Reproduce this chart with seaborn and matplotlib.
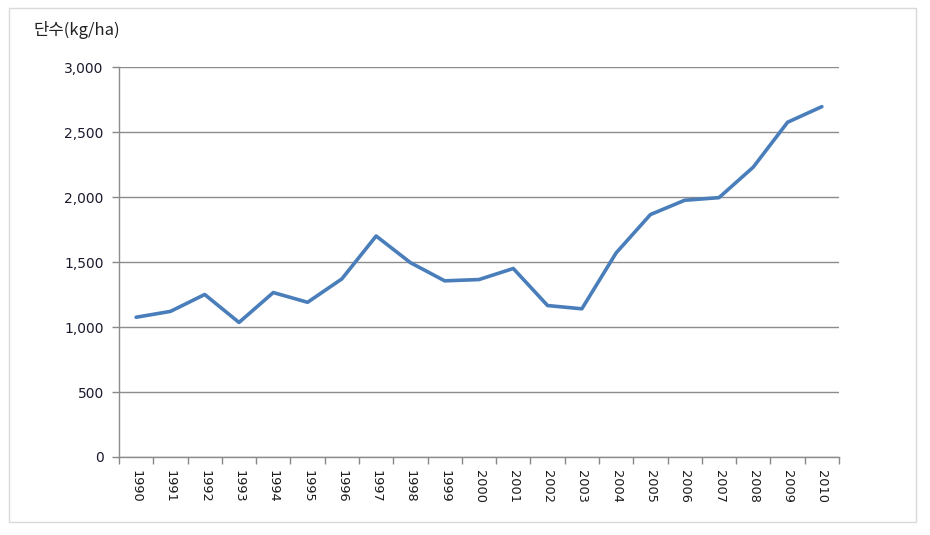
import matplotlib
matplotlib.use("Agg")
import matplotlib.pyplot as plt
import matplotlib.patches as mpatches
from matplotlib.ticker import FuncFormatter, FixedLocator
import seaborn as sns
import pandas as pd

years = [str(y) for y in range(1990, 2011)]
yields = [1075, 1120, 1250, 1035, 1265, 1190, 1370, 1700, 1495, 1355, 1365,
          1450, 1165, 1140, 1570, 1865, 1975, 1995, 2230, 2575, 2695]
title_text = "단수(kg/ha)"

sns.set_theme(style="white")
plt.rcParams['font.family'] = ['Noto Sans CJK KR', 'DejaVu Sans']

df = pd.DataFrame({"year": years, "yield": yields, "pos": range(len(years))})

fig = plt.figure(figsize=(9.3, 5.35), dpi=100)
ax = fig.add_axes([119/930, 1-457/535, (839-119)/930, (457-67)/535])

sns.lineplot(data=df, x="pos", y="yield", ax=ax, color="#4a7ebb", linewidth=2.6)

ax.set_xlim(-0.5, len(years) - 0.5)
ax.set_ylim(0, 3000)
ax.set_yticks(range(0, 3001, 500))
ax.yaxis.set_major_formatter(FuncFormatter(lambda v, p: f"{int(v):,}"))
ax.set_xticks(range(len(years)))
ax.set_xticklabels(years, rotation=-90, fontsize=9.3, family=['DejaVu Sans'])
ax.xaxis.set_minor_locator(FixedLocator([i - 0.5 for i in range(len(years) + 1)]))
ax.tick_params(axis='x', which='major', length=0, pad=9, colors='#1a1a1a')
ax.tick_params(axis='x', which='minor', length=5, width=1, color='#888888', direction='out', bottom=True)
ax.tick_params(axis='y', which='major', length=5, width=1, color='#888888', direction='out', left=True,
               labelsize=10, labelcolor='#1a1a2e', pad=6)
for lbl in ax.get_yticklabels():
    lbl.set_family(['DejaVu Sans'])

ax.grid(axis='y', color='#8c8c8c', linewidth=1)
ax.set_axisbelow(True)
for s in ['top', 'right']:
    ax.spines[s].set_visible(False)
for s in ['left', 'bottom']:
    ax.spines[s].set_color('#8c8c8c')
    ax.spines[s].set_linewidth(1)
ax.set_xlabel("")
ax.set_ylabel("")

fig.text(33/930, 1-30/535, title_text, fontsize=12, va='center', ha='left', color='#222222')

rect = mpatches.Rectangle((9/930, 1-522/535), (916-9)/930, (522-8)/535,
                          transform=fig.transFigure, fill=False, edgecolor='#d9d9d9', linewidth=1)
fig.patches.append(rect)

fig.savefig("out.png", dpi=100)
